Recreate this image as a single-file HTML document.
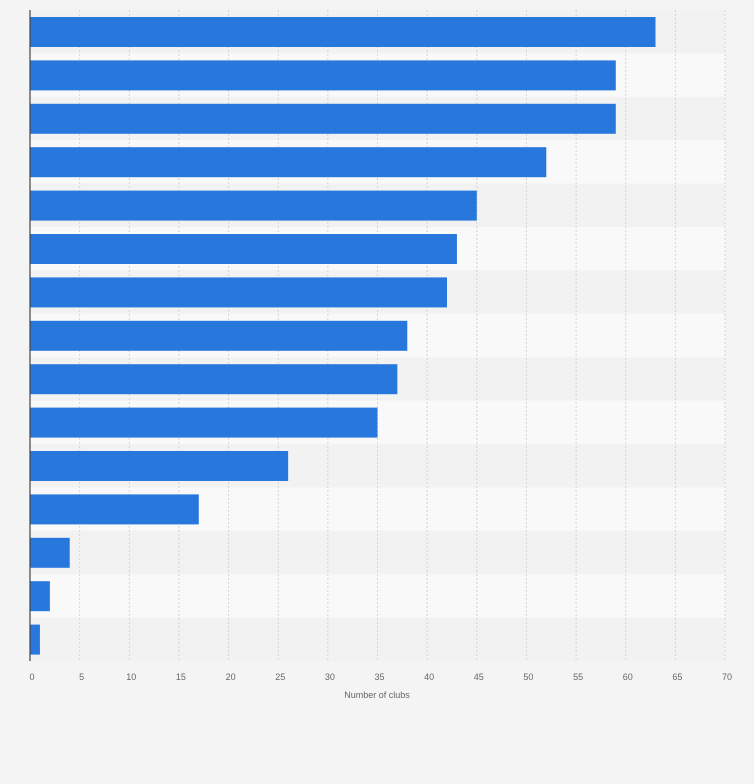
<!DOCTYPE html>
<html><head><meta charset="utf-8"><style>
body{margin:0;background:#f4f4f4;font-family:"Liberation Sans",sans-serif;}
</style></head><body>
<svg id="chart" width="754" height="779" xmlns="http://www.w3.org/2000/svg"></svg>
<script>
const categories=["c1","c2","c3","c4","c5","c6","c7","c8","c9","c10","c11","c12","c13","c14","c15"];
const values=[63,59,59,52,45,43,42,38,37,35,26,17,4,2,1];
const ticks=[0,5,10,15,20,25,30,35,40,45,50,55,60,65,70];
const NS="http://www.w3.org/2000/svg";
const svg=document.getElementById('chart');
const x0=30,x1=725,plotTop=10,plotBottom=661;
const xs=v=>x0+(v/70)*(x1-x0);
const rowH=(plotBottom-plotTop)/categories.length;
function mk(t,a,p){const e=document.createElementNS(NS,t);for(const k in a)e.setAttribute(k,a[k]);(p||svg).appendChild(e);return e;}
categories.forEach((c,i)=>{
  const r=mk('rect',{x:x0,y:plotTop+i*rowH,width:x1-x0,height:rowH,fill:i%2?'#f9f9f9':'#f2f2f2'});
  
  
});
ticks.forEach(t=>{
  const l=mk('line',{x1:xs(t),x2:xs(t),y1:plotTop,y2:plotBottom,stroke:'#d4d4d4','stroke-dasharray':'2,2'});
  
  
  const tx=mk('text',{x:xs(t)+2,y:680,'font-size':9,fill:'#666','text-anchor':'middle'});
  tx.textContent=t;
  
  
});
values.forEach((v,i)=>{
  const b=mk('rect',{x:x0,y:plotTop+i*rowH+7,width:xs(v)-x0,height:30,fill:'#2777dc'});
  
  
});
const ax=mk('line',{x1:x0,x2:x0,y1:plotTop,y2:plotBottom,stroke:'#444','stroke-width':1.2});


const tt=mk('text',{x:377,y:698,'font-size':9,fill:'#666','text-anchor':'middle'});
tt.textContent='Number of clubs';


</script>
</body></html>
